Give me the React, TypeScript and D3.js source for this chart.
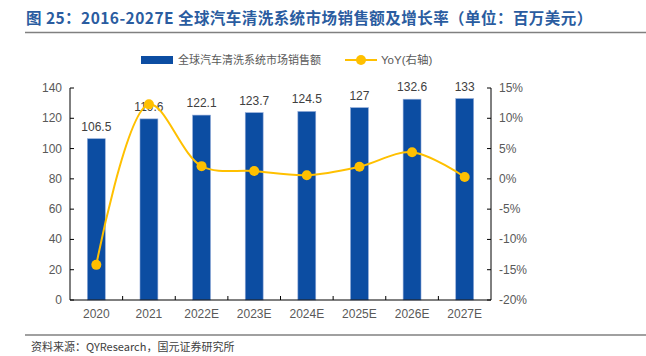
import React from "react";
import * as d3 from "d3";

const categories = ["2020", "2021", "2022E", "2023E", "2024E", "2025E", "2026E", "2027E"];
const sales = [106.5, 119.6, 122.1, 123.7, 124.5, 127, 132.6, 133];
const yoy = [-14.2, 12.3, 2.1, 1.3, 0.6, 2.0, 4.4, 0.3];
const leftTicks = [0, 20, 40, 60, 80, 100, 120, 140];
const rightTicks = [-20, -15, -10, -5, 0, 5, 10, 15];

const W = 646, H = 356;
const m = { left: 70, right: 491, top: 88, bottom: 300 };
const FONT = "'Liberation Sans', Arial, sans-serif";
const CJK = "'Noto Sans CJK SC', sans-serif";

export default function App() {
  const x = d3.scaleBand<string>().domain(categories).range([m.left, m.right]).paddingInner(0.66).paddingOuter(0.33);
  const xb = d3.scaleBand<string>().domain(categories).range([m.left, m.right]);
  const yL = d3.scaleLinear().domain([0, 140]).range([m.bottom, m.top]);
  const yR = d3.scaleLinear().domain([-20, 15]).range([m.bottom, m.top]);
  const line = d3.line<number>()
    .x((_, i) => xb(categories[i])! + xb.bandwidth() / 2)
    .y((d) => yR(d))
    .curve(d3.curveCatmullRom.alpha(0.5));
  const barColor = "#0C4DA2";
  const lineColor = "#FFC000";
  return (
    <svg width={W} height={H} style={{ display: "block", position: "absolute", left: 0, top: 0 }}>
      <rect width={W} height={H} fill="#fff" />
      <text x={26} y={24} fill="#2A5CA0" fontFamily={CJK} fontWeight="bold" fontSize={15.5} letterSpacing={0.45}>
        图 25：2016-2027E 全球汽车清洗系统市场销售额及增长率（单位：百万美元）
      </text>
      <line x1={25} x2={646} y1={32.5} y2={32.5} stroke="#808080" strokeWidth={1.5} />
      {/* legend */}
      <rect x={141} y={56} width={32} height={8} fill={barColor} />
      <text x={178} y={64} fill="#595959" fontFamily={CJK} fontSize={11}>全球汽车清洗系统市场销售额</text>
      <line x1={345} x2={377} y1={60} y2={60} stroke={lineColor} strokeWidth={2} />
      <circle cx={361} cy={60} r={5} fill={lineColor} />
      <text x={381} y={64} fill="#595959" fontFamily={FONT} fontSize={11.5}>YoY(<tspan fontFamily={CJK}>右轴</tspan>)</text>
      {/* bars */}
      {sales.map((v, i) => (
        <rect key={i} x={x(categories[i])!} y={yL(v)} width={x.bandwidth()} height={m.bottom - yL(v)} fill={barColor} stroke="#8FA9D8" strokeWidth={0.6} />
      ))}
      {sales.map((v, i) => (
        <text key={"l" + i} x={x(categories[i])! + x.bandwidth() / 2} y={yL(v) - 8} textAnchor="middle" fill="#404040" fontFamily={FONT} fontSize={12}>{v}</text>
      ))}
      {/* axes */}
      <line x1={m.left} x2={m.left} y1={m.top} y2={m.bottom} stroke="#000" />
      <line x1={m.right} x2={m.right} y1={m.top} y2={m.bottom} stroke="#000" />
      <line x1={m.left} x2={m.right} y1={m.bottom} y2={m.bottom} stroke="#000" />
      {leftTicks.map((t) => (
        <g key={"lt" + t}>
          <line x1={m.left} x2={m.left + 4} y1={yL(t)} y2={yL(t)} stroke="#000" />
          <text x={m.left - 8} y={yL(t) + 4} textAnchor="end" fill="#595959" fontFamily={FONT} fontSize={12}>{t}</text>
        </g>
      ))}
      {rightTicks.map((t) => (
        <g key={"rt" + t}>
          <line x1={m.right - 4} x2={m.right} y1={yR(t)} y2={yR(t)} stroke="#000" />
          <text x={m.right + 8} y={yR(t) + 4} textAnchor="start" fill="#595959" fontFamily={FONT} fontSize={12}>{t}%</text>
        </g>
      ))}
      {categories.slice(1).map((c) => (
        <line key={"bt" + c} x1={xb(c)!} x2={xb(c)!} y1={m.bottom} y2={m.bottom - 4} stroke="#000" />
      ))}
      {categories.map((c) => (
        <text key={"xl" + c} x={xb(c)! + xb.bandwidth() / 2} y={m.bottom + 18} textAnchor="middle" fill="#595959" fontFamily={FONT} fontSize={12}>{c}</text>
      ))}
      {/* line */}
      <path d={line(yoy)!} fill="none" stroke={lineColor} strokeWidth={2} />
      {yoy.map((v, i) => (
        <circle key={"c" + i} cx={xb(categories[i])! + xb.bandwidth() / 2} cy={yR(v)} r={5} fill={lineColor} />
      ))}
      <line x1={25} x2={646} y1={335} y2={335} stroke="#808080" strokeWidth={1.5} />
      <text x={31} y={351} fill="#404040" fontFamily={CJK} fontSize={11}>资料来源：QYResearch，国元证券研究所</text>
    </svg>
  );
}
